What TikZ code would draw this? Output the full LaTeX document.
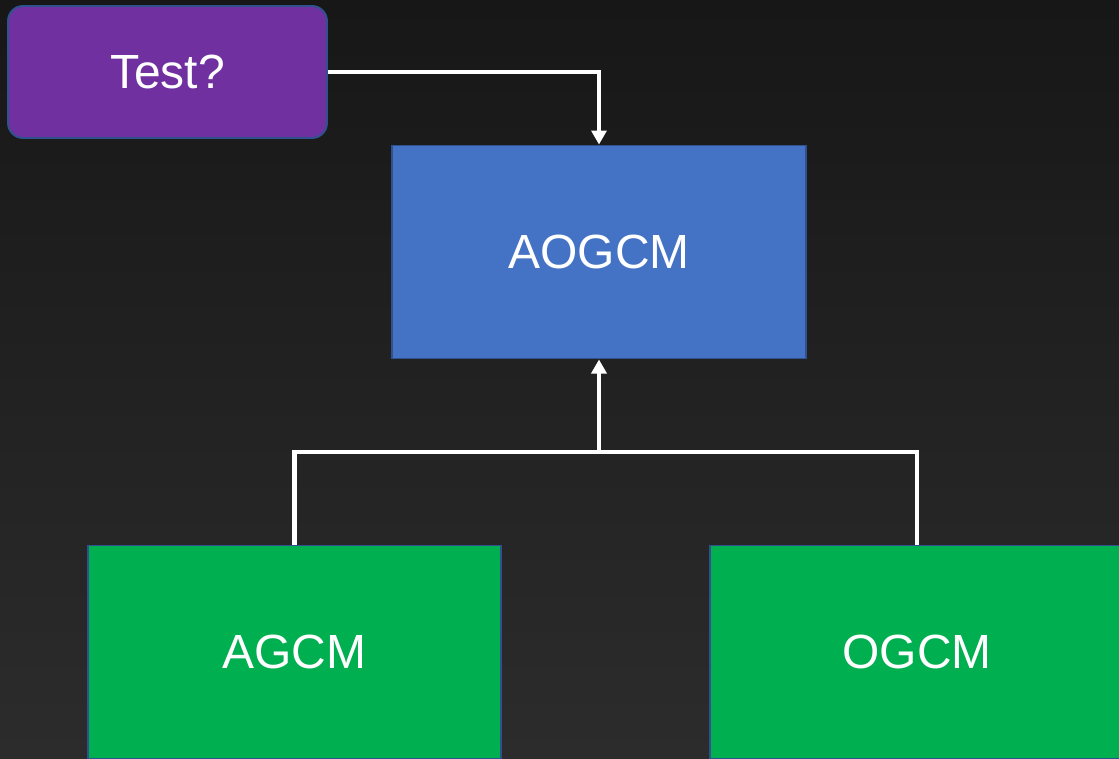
\documentclass[tikz,border=0pt]{standalone}
\usepackage{fontspec}
\setmainfont{Liberation Sans}
\usetikzlibrary{arrows.meta}

\definecolor{bgtop}{HTML}{171717}
\definecolor{bgbot}{HTML}{2C2C2C}
\definecolor{testpurple}{HTML}{7030A0}
\definecolor{modelblue}{HTML}{4472C4}
\definecolor{modelgreen}{HTML}{00B050}
\definecolor{boxedge}{HTML}{2F528F}

\tikzset{
  box/.style={draw=boxedge, line width=1.1pt, text=white,
    font=\fontsize{27.3}{33}\selectfont, inner sep=0pt},
  modelbox/.style={box, minimum width=8.28cm, minimum height=4.26cm},
  link/.style={draw=white, line width=2.8pt},
  arrowlink/.style={link, -{Triangle[length=8pt, width=8.5pt]}}
}

\begin{document}
\begin{tikzpicture}[x=0.02cm, y=-0.02cm]
  % fondo -------------------------------------------------------------
  \shade[top color=bgtop, bottom color=bgbot] (0,0) rectangle (1119,758);
  \useasboundingbox (0,0) rectangle (1119,758);

  % cajas -------------------------------------------------------------
  \node[box, fill=testpurple, rounded corners=0.3cm,
    minimum width=6.38cm, minimum height=2.64cm] (test) at (167.5,72) {Test?};
  \node[modelbox, fill=modelblue] (aogcm) at (599,252) {AOGCM}; % modelo acoplado
  \node[modelbox, fill=modelgreen] (agcm) at (294.5,652) {AGCM}; % atmosfera
  \node[modelbox, fill=modelgreen] (ogcm) at (917,652) {OGCM}; % oceano

  % conexiones --------------------------------------------------------
  \coordinate (join) at (599,452); % punto de union
  \draw[arrowlink] (test.east) -| (aogcm.north);
  \draw[link] (agcm.north) |- (join) -| (ogcm.north);
  \draw[arrowlink] (join) -- (aogcm.south);
\end{tikzpicture}
\end{document}
